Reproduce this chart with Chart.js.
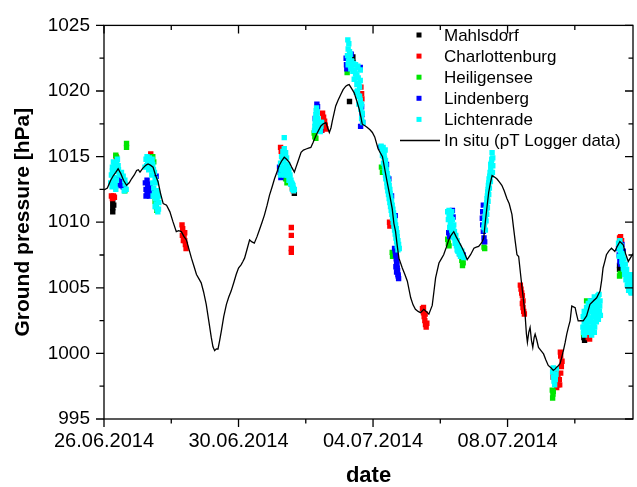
<!DOCTYPE html>
<html>
<head>
<meta charset="utf-8">
<script src="https://cdn.jsdelivr.net/npm/chart.js@4/dist/chart.umd.min.js"></script>
<style>
  html, body { margin: 0; padding: 0; background: #fff; }
  #wrap { width: 637px; height: 487px; }
</style>
</head>
<body>
<div id="wrap"><canvas id="c" width="637" height="487"></canvas></div>
<script>
// Time axis: days since 26.06.2014 00:00
const dateLabels = ['26.06.2014', '30.06.2014', '04.07.2014', '08.07.2014'];
const majorDays = [0, 4, 8, 12];
const minorDays = [2, 6, 10, 14];
const dayMax = 15.73;
const pressureTicks = [995, 1000, 1005, 1010, 1015, 1020, 1025];

// In situ ground pressure (pT logger), [day, hPa]
const insitu = [
  [0.00,1012.45],[0.10,1012.6],[0.20,1013.2],[0.28,1013.56],[0.35,1013.8],[0.42,1014.07],
  [0.50,1013.7],[0.58,1013.2],[0.67,1012.81],[0.75,1013.0],[0.82,1013.31],[0.90,1013.6],
  [0.97,1013.94],[1.02,1014.0],[1.07,1013.82],[1.15,1014.1],[1.25,1014.35],[1.31,1014.44],
  [1.38,1014.35],[1.46,1014.19],[1.53,1013.6],[1.61,1013.06],[1.68,1012.2],[1.76,1011.42],
  [1.86,1011.30],[1.96,1010.79],[2.05,1010.04],[2.15,1009.28],[2.22,1009.35],[2.30,1009.28],
  [2.38,1008.9],[2.45,1008.65],[2.52,1008.0],[2.60,1007.26],[2.68,1006.6],[2.75,1006.01],
  [2.82,1005.7],[2.89,1005.38],[2.96,1004.7],[3.04,1003.74],[3.12,1002.4],[3.19,1001.22],
  [3.24,1000.5],[3.29,1000.21],[3.34,1000.35],[3.39,1000.34],[3.44,1001.0],[3.49,1001.72],
  [3.56,1002.8],[3.64,1003.74],[3.71,1004.3],[3.78,1004.75],[3.86,1005.4],[3.93,1006.01],
  [4.00,1006.5],[4.08,1006.77],[4.13,1007.0],[4.18,1007.26],[4.25,1007.9],[4.33,1008.65],
  [4.40,1008.5],[4.47,1008.40],[4.55,1008.9],[4.62,1009.41],[4.70,1010.0],[4.77,1010.54],
  [4.85,1011.3],[4.92,1012.05],[5.00,1012.7],[5.07,1013.31],[5.14,1013.8],[5.21,1014.32],
  [5.29,1014.7],[5.36,1014.95],[5.43,1014.8],[5.51,1014.57],[5.58,1014.2],[5.66,1013.82],
  [5.71,1014.2],[5.76,1014.57],[5.86,1015.33],[5.93,1015.5],[6.01,1015.58],[6.08,1015.65],
  [6.15,1015.70],[6.22,1016.1],[6.30,1016.59],[6.38,1017.0],[6.45,1017.34],[6.52,1017.5],
  [6.60,1017.59],[6.65,1017.2],[6.70,1016.84],[6.75,1017.2],[6.79,1017.72],[6.84,1018.3],
  [6.89,1018.86],[6.96,1019.3],[7.04,1019.74],[7.11,1020.1],[7.19,1020.37],[7.24,1020.45],
  [7.29,1020.49],[7.36,1020.2],[7.44,1019.86],[7.51,1019.3],[7.59,1018.6],[7.64,1018.0],
  [7.68,1017.47],[7.76,1017.35],[7.83,1017.22],[7.91,1017.05],[7.98,1016.84],[8.05,1016.5],
  [8.15,1015.6],[8.28,1015.0],[8.42,1013.06],[8.50,1012.0],[8.57,1011.04],[8.62,1009.9],
  [8.67,1009.28],[8.72,1008.2],[8.77,1007.26],[8.87,1006.51],[8.95,1006.0],[9.02,1005.5],
  [9.12,1004.24],[9.19,1003.7],[9.26,1003.36],[9.34,1003.2],[9.41,1003.11],[9.51,1003.36],
  [9.58,1003.2],[9.66,1002.99],[9.76,1003.66],[9.81,1004.7],[9.86,1005.76],[9.96,1006.89],
  [10.03,1007.2],[10.10,1007.52],[10.18,1008.1],[10.25,1008.65],[10.32,1009.0],[10.40,1009.28],
  [10.47,1008.9],[10.55,1008.53],[10.62,1008.2],[10.70,1007.77],[10.80,1007.14],[10.90,1007.52],
  [11.00,1008.02],[11.07,1008.1],[11.14,1008.15],[11.22,1008.4],[11.29,1008.78],[11.34,1010.04],
  [11.39,1011.2],[11.44,1012.30],[11.49,1013.0],[11.54,1013.56],[11.61,1013.45],[11.68,1013.31],
  [11.76,1013.05],[11.83,1012.81],[11.90,1012.4],[11.98,1011.80],[12.05,1011.4],[12.13,1010.6],
  [12.18,1009.53],[12.23,1008.5],[12.28,1007.52],[12.33,1007.39],[12.42,1005.25],[12.52,1002.99],
  [12.56,1001.5],[12.59,1000.84],[12.63,1001.6],[12.67,1001.97],[12.71,1001.0],[12.75,1000.46],
  [12.79,1001.2],[12.82,1001.47],[12.87,1001.0],[12.92,1000.46],[13.00,1000.2],[13.07,999.96],
  [13.14,999.5],[13.21,999.08],[13.29,998.9],[13.36,998.7],[13.41,998.8],[13.46,998.95],
  [13.51,999.05],[13.56,999.21],[13.61,999.7],[13.66,1000.21],[13.71,1000.8],[13.76,1001.47],
  [13.81,1002.0],[13.86,1002.48],[13.91,1003.61],[13.96,1003.55],[14.01,1003.49],[14.05,1003.0],
  [14.10,1002.48],[14.18,1002.5],[14.25,1002.48],[14.35,1002.86],[14.45,1003.74],[14.55,1004.0],
  [14.65,1004.24],[14.75,1004.75],[14.80,1005.6],[14.84,1006.51],[14.89,1007.0],[14.94,1007.52],
  [15.01,1007.8],[15.09,1008.02],[15.19,1007.77],[15.27,1008.2],[15.34,1008.53],[15.44,1008.28],
  [15.51,1007.6],[15.59,1007.01],[15.68,1007.39],[15.78,1007.77]
];

// Station retrievals, [day, hPa]
const mahlsdorf = [
  [0.26,1011.5],[0.26,1011.1],[0.26,1010.8],[0.29,1011.3],
  [5.66,1012.2],
  [7.30,1019.2],[7.40,1022.6],[7.41,1022.2],
  [14.29,1001.0],[14.27,1001.2],
  [15.33,1006.7],[15.33,1006.4]
];
const charlottenburg = [
  [0.22,1012.0],[0.25,1011.8],[0.28,1012.0],[0.31,1011.9],[0.36,1015.0],
  [1.39,1015.2],[1.42,1015.0],
  [2.32,1009.8],[2.34,1009.5],[2.36,1009.2],[2.38,1008.9],[2.40,1008.6],[2.42,1008.3],
  [2.44,1008.0],[2.36,1008.6],[2.40,1009.2],[2.33,1009.0],
  [5.25,1015.7],[5.27,1015.4],[5.57,1012.9],[5.60,1012.6],[5.63,1012.4],
  [5.57,1009.6],[5.57,1009.0],[5.57,1008.0],[5.57,1007.7],
  [6.50,1018.3],[6.53,1018.0],[6.56,1017.7],[6.58,1017.4],[6.60,1017.1],[6.52,1017.5],[6.48,1017.0],
  [7.64,1020.3],[7.66,1019.8],[7.67,1019.4],
  [8.49,1010.0],[8.50,1009.7],
  [9.47,1003.4],[9.50,1003.1],[9.52,1002.8],[9.54,1002.5],[9.56,1002.2],[9.58,1002.0],
  [9.60,1002.3],[9.55,1003.0],[9.50,1003.5],
  [10.56,1007.8],[10.58,1007.6],
  [12.38,1005.2],[12.40,1004.9],[12.42,1004.6],[12.44,1004.4],[12.44,1003.8],[12.46,1003.5],
  [12.48,1003.2],[12.50,1003.0],[12.46,1004.0],
  [13.40,998.7],[13.42,998.2],[13.44,997.7],[13.46,997.4],[13.50,997.6],[13.54,998.0],
  [13.58,998.5],[13.60,999.0],[13.62,999.4],[13.57,1000.1],[13.58,999.8],[13.50,998.4],
  [13.55,997.6],[13.35,998.2],
  [14.40,1001.2],[14.44,1001.1],
  [15.33,1008.8],[15.36,1008.9],[15.39,1008.6]
];
const heiligensee = [
  [0.35,1015.1],[0.38,1014.9],[0.67,1016.0],[0.67,1015.7],[0.62,1012.4],
  [1.45,1015.0],[1.48,1014.6],[1.52,1011.6],[1.55,1011.2],[1.57,1010.9],
  [5.36,1013.6],[5.40,1013.3],[5.44,1013.0],[5.48,1013.2],
  [6.25,1016.8],[6.27,1016.5],[6.30,1016.4],
  [7.23,1021.4],
  [8.25,1014.2],[8.28,1013.8],[8.57,1007.7],[8.58,1007.4],
  [10.22,1008.7],[10.24,1008.4],[10.26,1008.2],[10.64,1007.1],[10.68,1006.9],[10.66,1006.7],
  [11.30,1008.1],[11.32,1008.0],[11.30,1010.3],
  [13.33,997.2],[13.35,996.9],[13.34,996.6],[13.36,997.1],
  [14.26,1001.5],[14.35,1004.0],
  [15.33,1005.9],[15.35,1006.1]
];
const lindenberg = [
  [0.42,1013.3],[0.45,1012.9],[0.48,1013.1],[0.50,1012.8],[0.55,1012.9],[0.60,1012.7],[0.40,1012.9],
  [0.52,1013.2],[0.57,1012.7],
  [1.23,1013.0],[1.25,1012.5],[1.28,1012.2],[1.30,1012.8],[1.33,1012.4],[1.36,1012.9],
  [1.40,1012.3],[1.25,1012.0],[1.35,1012.0],[1.55,1013.5],[1.28,1013.2],[1.38,1012.6],
  [5.22,1014.2],[5.24,1013.8],[5.26,1013.4],[5.30,1013.6],[5.33,1014.0],
  [6.33,1019.0],[6.35,1018.8],[6.28,1017.9],[6.44,1017.0],
  [7.20,1022.5],[7.21,1022.0],[7.22,1021.7],[7.35,1022.8],[7.62,1021.8],
  [7.66,1018.8],[7.67,1018.2],[7.69,1017.6],[7.63,1017.3],
  [8.23,1015.7],[8.40,1014.4],[8.47,1013.3],[8.55,1012.0],[8.66,1010.5],
  [8.64,1008.0],[8.67,1007.5],[8.70,1007.0],[8.72,1006.5],[8.74,1006.0],[8.76,1005.7],[8.70,1006.2],
  [8.66,1007.8],[8.69,1007.2],[8.71,1006.8],[8.73,1006.3],[8.75,1005.9],[8.68,1006.6],
  [10.36,1010.9],[10.38,1010.4],[10.25,1009.2],[10.28,1008.9],[10.60,1007.8],[10.68,1007.5],
  [11.28,1011.3],[11.26,1010.8],[11.25,1010.3],[11.26,1009.8],[11.28,1009.3],[11.30,1008.8],[11.32,1008.5],
  [14.50,1004.0],[14.70,1002.8],[14.72,1003.1],
  [15.30,1008.0],[15.32,1007.5],[15.34,1007.0],[15.40,1008.3],[15.44,1007.8],[15.36,1006.8]
];
const lichtenrade = [
  [0.20,1013.0],[0.22,1013.6],[0.25,1014.2],[0.28,1014.6],[0.30,1013.4],[0.33,1012.8],
  [0.35,1013.9],[0.38,1014.5],[0.40,1014.8],[0.42,1014.3],[0.45,1013.6],
  [0.52,1013.8],[0.60,1012.4],[0.63,1012.9],
  [0.66,1012.5],[0.35,1012.5],
  [0.24,1012.7],[0.27,1013.2],[0.32,1014.0],[0.37,1013.2],[0.43,1014.0],
  [0.57,1013.5],[0.62,1013.2],[0.25,1013.9],[0.30,1014.3],
  [1.22,1014.2],[1.25,1014.8],[1.28,1015.0],[1.30,1014.5],[1.33,1014.0],[1.35,1014.9],
  [1.38,1014.6],[1.40,1014.2],[1.42,1013.6],[1.45,1013.0],[1.48,1012.6],[1.50,1012.2],
  [1.53,1011.8],[1.55,1011.4],[1.58,1011.0],[1.60,1010.8],[1.45,1014.4],[1.50,1013.8],
  [1.55,1013.0],[1.60,1012.2],[1.63,1011.5],
  [1.27,1014.3],[1.43,1014.8],
  [1.47,1014.0],[1.52,1013.3],[1.57,1012.4],[1.62,1011.0],[1.32,1014.7],
  [1.46,1012.0],[1.52,1011.2],[1.58,1011.8],[1.62,1012.0],
  [5.36,1016.45],
  [5.25,1014.5],[5.28,1015.0],[5.32,1015.4],[5.36,1015.6],[5.40,1015.3],[5.43,1014.9],
  [5.46,1014.4],[5.50,1014.0],[5.53,1013.6],[5.56,1013.2],[5.60,1012.9],[5.63,1012.6],
  [5.66,1012.5],[5.30,1014.2],[5.35,1014.6],[5.40,1014.0],[5.45,1013.6],[5.50,1013.2],
  [5.55,1012.9],[5.60,1012.5],[5.25,1013.6],
  [5.27,1014.0],[5.31,1014.8],[5.34,1015.2],[5.38,1015.0],[5.42,1014.4],[5.44,1014.2],
  [5.48,1013.8],[5.52,1013.4],[5.58,1013.0],[5.62,1012.8],[5.64,1012.4],[5.33,1013.8],[5.38,1013.6],
  [6.26,1017.0],[6.28,1017.6],[6.30,1018.2],[6.32,1018.7],[6.34,1018.4],[6.36,1017.9],
  [6.38,1017.4],[6.40,1017.0],[6.43,1016.9],[6.45,1017.3],[6.30,1017.2],[6.35,1017.0],[6.47,1017.6],
  [6.27,1017.3],[6.29,1017.9],[6.31,1018.5],[6.33,1018.1],[6.35,1017.6],[6.37,1017.2],
  [6.41,1017.4],[6.44,1017.6],
  [7.25,1023.9],[7.28,1023.6],[7.26,1023.2],[7.30,1023.0],[7.24,1022.7],[7.30,1022.5],
  [7.36,1022.3],[7.42,1022.1],[7.48,1022.0],[7.55,1021.9],[7.62,1021.6],[7.26,1022.0],
  [7.34,1021.7],[7.40,1021.5],[7.48,1021.3],[7.56,1021.0],[7.62,1020.8],[7.44,1020.9],
  [7.52,1020.5],[7.60,1020.3],[7.50,1019.9],[7.56,1019.6],[7.62,1019.3],[7.66,1019.0],
  [7.58,1019.0],[7.64,1018.6],[7.68,1018.3],[7.66,1017.9],[7.70,1017.6],
  [7.32,1022.8],[7.38,1022.0],[7.46,1021.6],[7.52,1021.2],[7.58,1020.6],[7.54,1020.0],
  [7.60,1019.6],[7.63,1018.9],[7.27,1022.3],[7.33,1021.9],
  [8.24,1015.8],[8.30,1015.7],[8.36,1015.5],[8.28,1015.1],[8.34,1014.9],[8.31,1014.5],
  [8.38,1014.3],[8.35,1013.9],[8.42,1013.7],[8.38,1013.3],[8.46,1013.1],[8.42,1012.7],
  [8.50,1012.5],[8.46,1012.1],[8.53,1011.9],[8.50,1011.5],[8.57,1011.3],[8.54,1010.9],
  [8.61,1010.7],[8.58,1010.3],[8.65,1010.1],[8.62,1009.7],[8.69,1009.5],[8.66,1009.1],
  [8.72,1008.9],[8.70,1008.5],[8.76,1008.3],[8.74,1007.9],
  [8.27,1015.5],[8.33,1015.3],[8.31,1015.0],[8.37,1014.7],[8.34,1014.3],[8.40,1014.0],
  [8.37,1013.6],[8.44,1013.4],[8.41,1013.0],[8.48,1012.8],[8.44,1012.4],[8.51,1012.2],
  [8.48,1011.8],[8.55,1011.6],[8.52,1011.2],[8.59,1011.0],[8.56,1010.6],[8.63,1010.4],
  [8.60,1010.0],[8.67,1009.8],[8.64,1009.4],[8.71,1009.2],[8.68,1008.8],[8.74,1008.6],
  [8.72,1008.2],[8.78,1008.0],
  [10.22,1010.8],[10.26,1010.9],[10.30,1010.6],[10.34,1010.8],[10.24,1010.2],[10.30,1010.0],
  [10.36,1010.2],[10.40,1009.8],[10.28,1009.6],[10.34,1009.4],[10.42,1009.3],[10.46,1009.0],
  [10.38,1008.9],[10.50,1008.6],[10.44,1008.4],[10.54,1008.2],[10.58,1007.9],[10.50,1007.9],
  [10.62,1007.6],[10.66,1007.4],[10.56,1007.6],[10.70,1007.3],
  [10.28,1010.4],[10.32,1010.3],[10.38,1009.6],[10.32,1009.8],[10.36,1009.2],[10.42,1008.8],
  [10.46,1008.5],[10.48,1008.2],[10.52,1007.8],[10.60,1007.4],[10.64,1007.8],[10.26,1010.6],
  [11.54,1015.3],[11.56,1014.9],[11.52,1014.5],[11.56,1014.3],[11.50,1014.0],[11.47,1013.5],
  [11.52,1013.6],[11.44,1013.0],[11.49,1013.1],[11.42,1012.5],[11.46,1012.6],[11.40,1012.0],
  [11.44,1012.1],[11.38,1011.5],[11.42,1011.6],[11.36,1011.0],[11.40,1011.1],[11.34,1010.5],
  [11.38,1010.6],[11.32,1010.0],[11.36,1010.1],[11.30,1009.6],[11.34,1009.4],
  [11.53,1014.8],[11.48,1013.8],[11.45,1013.3],[11.43,1012.8],[11.41,1012.3],[11.39,1011.8],
  [11.37,1011.3],[11.35,1010.8],[11.33,1010.3],[11.31,1009.8],[11.50,1014.4],[11.55,1013.8],
  [13.34,998.6],[13.36,998.2],[13.38,997.9],[13.40,997.6],[13.42,998.0],[13.44,998.4],
  [13.36,998.9],[13.45,998.8],
  [14.24,1002.0],[14.26,1001.6],[14.28,1002.4],[14.30,1001.9],[14.32,1002.8],[14.34,1002.2],
  [14.36,1001.6],[14.38,1003.0],[14.40,1002.4],[14.42,1001.8],[14.44,1003.3],[14.46,1002.7],
  [14.48,1002.0],[14.50,1001.4],[14.52,1003.6],[14.54,1002.9],[14.56,1002.2],[14.58,1001.6],
  [14.60,1003.8],[14.62,1003.1],[14.64,1002.4],[14.66,1004.2],[14.68,1003.4],[14.70,1002.6],
  [14.72,1004.5],[14.74,1003.6],[14.76,1002.9],[14.28,1003.2],[14.35,1003.5],
  [14.25,1002.8],[14.27,1002.0],[14.29,1001.4],[14.31,1002.4],[14.33,1003.2],[14.37,1002.4],
  [14.39,1001.8],[14.41,1003.4],[14.43,1002.6],[14.45,1002.0],[14.47,1001.6],[14.49,1003.2],
  [14.51,1002.4],[14.53,1001.8],[14.55,1003.6],[14.57,1002.8],[14.59,1002.0],[14.61,1003.4],
  [14.63,1002.7],[14.65,1003.8],[14.67,1003.0],[14.69,1004.4],[14.71,1003.8],[14.73,1003.2],
  [14.75,1004.0],[14.40,1003.8],[14.46,1004.0],[14.58,1004.3],
  [15.30,1008.4],[15.34,1008.6],[15.38,1008.2],[15.36,1007.8],[15.42,1007.6],[15.40,1007.0],
  [15.46,1007.2],[15.44,1006.5],[15.50,1006.8],[15.48,1006.0],[15.54,1006.4],[15.52,1005.6],
  [15.58,1006.0],[15.56,1005.2],[15.62,1005.5],[15.60,1004.8],[15.66,1005.0],[15.70,1005.4],
  [15.68,1004.6],[15.72,1006.0],[15.32,1007.4],
  [15.32,1008.0],[15.38,1007.4],[15.42,1006.8],[15.46,1006.4],[15.50,1006.2],[15.54,1005.8],
  [15.58,1005.4],[15.62,1005.0],[15.66,1004.7],[15.70,1004.9],[15.72,1005.6],[15.64,1005.7],[15.68,1005.4]
];

const toXY = arr => arr.map(([x, y]) => ({ x, y }));
const FONT = '"Liberation Sans", Arial, Helvetica, sans-serif';

function stationSet(label, data, color, order) {
  return {
    type: 'scatter', label, data: toXY(data), order,
    pointStyle: 'rect', pointRadius: 3.8, borderWidth: 0,
    backgroundColor: color, borderColor: color
  };
}

// Frame with mirrored ticks and an in-plot legend
const framePlugin = {
  id: 'frame',
  afterDatasetsDraw(chart) {
    const { ctx, chartArea: { left, right, top, bottom }, scales: { x, y } } = chart;
    const major = 8, minor = 4.5;
    ctx.save();
    ctx.strokeStyle = '#000';
    ctx.lineWidth = 1.3;
    ctx.strokeRect(left, top, right - left, bottom - top);
    ctx.beginPath();
    const xTick = (d, len) => {
      const px = x.getPixelForValue(d);
      ctx.moveTo(px, bottom); ctx.lineTo(px, bottom + len);
      ctx.moveTo(px, top); ctx.lineTo(px, top + len);
    };
    const yTick = (v, len) => {
      const py = y.getPixelForValue(v);
      ctx.moveTo(left - len, py); ctx.lineTo(left, py);
      ctx.moveTo(right, py); ctx.lineTo(right - len, py);
    };
    majorDays.forEach(d => xTick(d, major));
    minorDays.forEach(d => xTick(d, minor));
    pressureTicks.forEach(v => yTick(v, major));
    pressureTicks.slice(0, -1).forEach(v => yTick(v + 2.5, minor));
    ctx.stroke();

    // legend
    const lx = 419, tx = 444, y0 = 35, dy = 21.1;
    ctx.font = '17px ' + FONT;
    ctx.textBaseline = 'middle';
    ctx.textAlign = 'left';
    chart.data.datasets.forEach((ds, i) => {
      const yy = y0 + i * dy;
      if (ds.type === 'line') {
        ctx.beginPath();
        ctx.moveTo(400, yy); ctx.lineTo(440, yy);
        ctx.lineWidth = 1.4; ctx.strokeStyle = '#000';
        ctx.stroke();
      } else {
        ctx.fillStyle = ds.backgroundColor;
        ctx.fillRect(lx - 2.5, yy - 2.5, 5, 5);
      }
      ctx.fillStyle = '#000';
      ctx.fillText(ds.label, tx, yy + 1);
    });
    ctx.restore();
  }
};

Chart.defaults.color = '#000';
Chart.defaults.font.family = FONT;

new Chart(document.getElementById('c'), {
  data: {
    datasets: [
      stationSet('Mahlsdorf', mahlsdorf, '#000000', 5),
      stationSet('Charlottenburg', charlottenburg, '#ff0000', 4),
      stationSet('Heiligensee', heiligensee, '#00e600', 3),
      stationSet('Lindenberg', lindenberg, '#0000ff', 2),
      stationSet('Lichtenrade', lichtenrade, '#00ffff', 1),
      {
        type: 'line', label: 'In situ (pT Logger data)', data: toXY(insitu), order: 0,
        borderColor: '#000', borderWidth: 1.3, pointRadius: 0, tension: 0, fill: false
      }
    ]
  },
  options: {
    responsive: false,
    animation: false,
    devicePixelRatio: 1,
    events: [],
    layout: { padding: { top: 22, right: 2, left: 0, bottom: 0 } },
    plugins: { legend: { display: false }, tooltip: { enabled: false } },
    scales: {
      x: {
        type: 'linear', position: 'bottom', min: 0, max: dayMax,
        grid: { display: false, drawTicks: false },
        border: { display: false },
        afterBuildTicks: s => { s.ticks = majorDays.map(v => ({ value: v })); },
        afterFit: s => { s.height = 68; },
        ticks: {
          autoSkip: false, maxRotation: 0, padding: 10,
          font: { size: 20, family: FONT },
          callback: v => dateLabels[majorDays.indexOf(v)] ?? ''
        },
        title: {
          display: true, text: 'date',
          font: { size: 22, weight: 'bold', family: FONT, lineHeight: 1 },
          padding: { top: 0, bottom: 0 }
        }
      },
      y: {
        type: 'linear', position: 'left', min: 995, max: 1025,
        grid: { display: false, drawTicks: false },
        border: { display: false },
        afterBuildTicks: s => { s.ticks = pressureTicks.map(v => ({ value: v })); },
        afterFit: s => { s.width = 104; },
        ticks: {
          padding: 14,
          font: { size: 19, family: FONT },
          callback: v => String(v)
        },
        title: {
          display: true, text: 'Ground pressure [hPa]',
          font: { size: 21, weight: 'bold', family: FONT, lineHeight: 1 },
          padding: { top: 12.5, bottom: 0 }
        }
      }
    }
  },
  plugins: [framePlugin]
});
</script>
</body>
</html>
